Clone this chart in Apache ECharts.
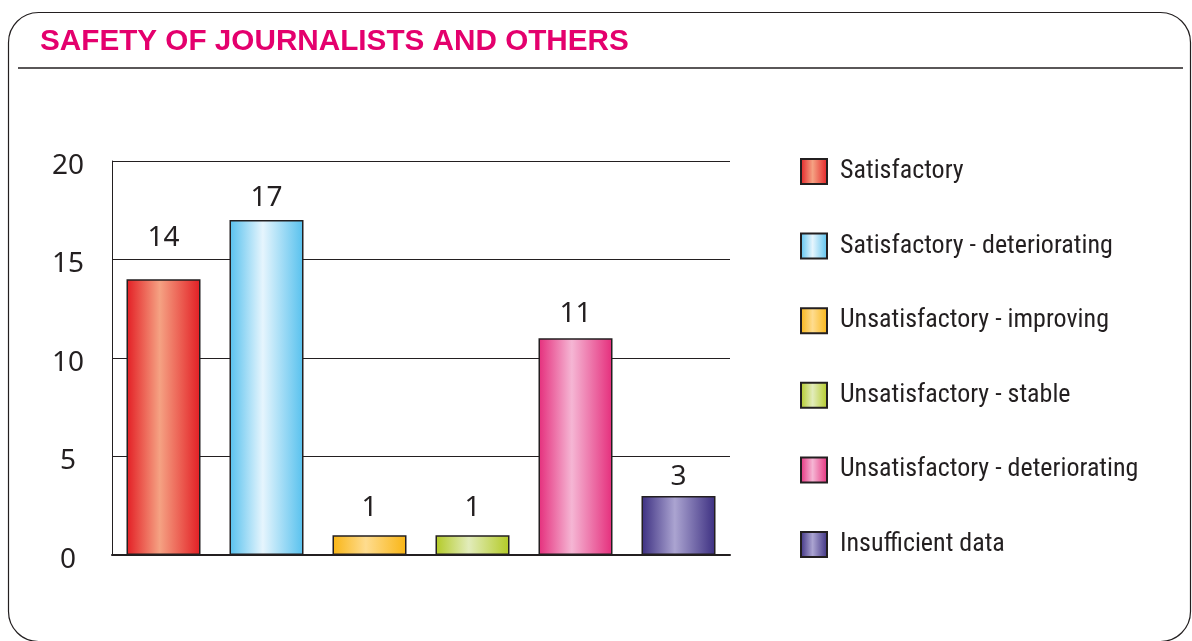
<!DOCTYPE html>
<html>
<head>
<meta charset="utf-8">
<title>Safety of journalists and others</title>
<script src="https://cdn.jsdelivr.net/npm/echarts@6/dist/echarts.min.js"></script>
<style>
html, body { margin: 0; padding: 0; background: #fff; }
#main { width: 1192px; height: 641px; }
</style>
</head>
<body>
<div id="main"></div>
<script>
// data
var categories = ['Satisfactory', 'Satisfactory - deteriorating', 'Unsatisfactory - improving',
    'Unsatisfactory - stable', 'Unsatisfactory - deteriorating', 'Insufficient data'];
var values = [14, 17, 1, 1, 11, 3];
var yTicks = { min: 0, max: 20, interval: 5 };

// edge colour / centre colour of each bar's shading
var edgeColors = ['#e31e24', '#57c1ee', '#f9b514', '#b3ca25', '#e52e7c', '#3c2f81'];
var midColors  = ['#f5a283', '#e6f5fd', '#fedc8f', '#e2ecbb', '#f5b6d4', '#aba4d1'];
// gap between bar top and its value label (the 14 sits above the 15 gridline)
var labelGaps = [27, 8, 13, 13, 10, 5];

function shade(i) {
    return {
        type: 'linear', x: 0, y: 0, x2: 1, y2: 0,
        colorStops: [
            { offset: 0, color: edgeColors[i] },
            { offset: 0.45, color: midColors[i] },
            { offset: 1, color: edgeColors[i] }
        ]
    };
}

var textFont = '"Liberation Sans Narrow", "Roboto Condensed", "Liberation Sans", sans-serif';
var numFont = '"Noto Sans", "Open Sans", sans-serif';

var series = [];
for (let i = 0; i < categories.length; i++) {
    let d = [];
    for (let j = 0; j < categories.length; j++) {
        d.push(j === i ? values[i] : '-');
    }
    series.push({
        name: categories[i],
        type: 'bar',
        stack: 'all',
        barWidth: 74,
        data: d,
        itemStyle: {
            color: shade(i),
            borderColor: '#231f20',
            borderWidth: 1.5
        },
        label: {
            show: true,
            position: 'top',
            distance: labelGaps[i],
            fontSize: 28,
            fontFamily: numFont,
            color: '#231f20'
        }
    });
}

var chart = echarts.init(document.getElementById('main'));
var option = {
    animation: false,
    title: {
        text: 'SAFETY OF JOURNALISTS AND OTHERS',
        left: 40,
        top: 27,
        padding: 0,
        textStyle: {
            fontSize: 29.7,
            fontWeight: 'bold',
            fontFamily: '"Liberation Sans", Arial, sans-serif',
            color: '#e4006d'
        }
    },
    graphic: [
        {
            type: 'rect',
            shape: { x: 8.5, y: 12.5, width: 1182, height: 629, r: 30 },
            style: { fill: 'none', stroke: '#231f20', lineWidth: 1.2 },
            z: -1
        },
        {
            type: 'line',
            shape: { x1: 18, y1: 68, x2: 1183, y2: 68 },
            style: { stroke: '#231f20', lineWidth: 1.5 }
        }
    ],
    legend: {
        orient: 'vertical',
        left: 800,
        top: 158,
        padding: 0,
        icon: 'rect',
        itemWidth: 26,
        itemHeight: 25,
        itemGap: 47.6,
        data: categories,
        textStyle: {
            fontSize: 26,
            fontFamily: textFont,
            color: '#231f20',
            padding: [0, 0, 0, 8]
        }
    },
    grid: { left: 112, right: 462, top: 161, bottom: 86 },
    xAxis: {
        type: 'category',
        data: categories,
        axisLine: { show: true, lineStyle: { color: '#231f20', width: 2 } },
        axisTick: { show: false },
        axisLabel: { show: false }
    },
    yAxis: {
        type: 'value',
        min: yTicks.min,
        max: yTicks.max,
        interval: yTicks.interval,
        axisLine: { show: true, lineStyle: { color: '#231f20', width: 1 } },
        axisTick: { show: false },
        splitLine: { show: true, lineStyle: { color: '#231f20', width: 1 } },
        axisLabel: {
            fontSize: 28,
            fontFamily: numFont,
            color: '#231f20',
            align: 'center',
            verticalAlign: 'top',
            lineHeight: 10,
            margin: 44
        }
    },
    series: series
};
chart.setOption(option);
</script>
</body>
</html>
